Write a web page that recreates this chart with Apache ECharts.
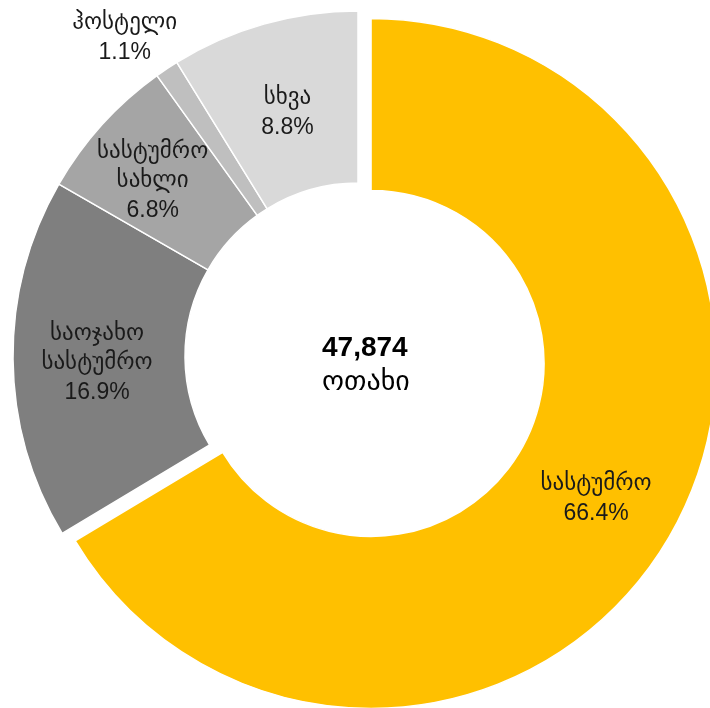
<!DOCTYPE html>
<html>
<head>
<meta charset="utf-8">
<script src="https://cdn.jsdelivr.net/npm/echarts@6/dist/echarts.min.js"></script>
<style>
  html, body { margin: 0; padding: 0; background: #fff; }
  #chart { width: 710px; height: 708px; }
</style>
</head>
<body>
<div id="chart"></div>
<script>
// categories and shares (%), clockwise from 12 o'clock
var names = ['სასტუმრო', 'საოჯახო\nსასტუმრო', 'სასტუმრო\nსახლი', 'ჰოსტელი', 'სხვა'];
var shares = [66.4, 16.9, 6.8, 1.1, 8.8];
var colors = ['#FFC000', '#7F7F7F', '#A5A5A5', '#BFBFBF', '#D9D9D9'];
var totalRooms = '47,874';
var totalLabel = 'ოთახი';

// label nudges, matching the original placement
var labelShift = [[-3, 7], [1, 5], [-11, 1], [-88, -100], [1, 9]];

var chart = echarts.init(document.getElementById('chart'));

var pieData = [];
for (var i = 0; i < names.length; i++) {
  pieData.push({
    name: names[i],
    value: shares[i],
    selected: i === 0,
    itemStyle: { color: colors[i] }
  });
}

var option = {
  animation: false,
  graphic: [
    {
      type: 'text',
      left: 322, top: 334,
      style: {
        text: totalRooms, width: 90, align: 'center',
        font: 'bold 28px "Liberation Sans", Arial, sans-serif', fill: '#000'
      }
    },
    {
      type: 'text',
      left: 322, top: 369,
      style: {
        text: totalLabel, width: 90, align: 'center',
        font: '28px "DejaVu Sans", sans-serif', fill: '#000'
      }
    }
  ],
  series: [{
    type: 'pie',
    center: [358, 356],
    radius: [173, 345],
    startAngle: 90,
    clockwise: true,
    selectedMode: 'single',
    selectedOffset: 15,
    avoidLabelOverlap: false,
    itemStyle: { borderColor: '#fff', borderWidth: 1.5 },
    label: {
      show: true,
      position: 'inside',
      formatter: function (p) {
        return p.name.split('\n').map(function (t) { return '{n|' + t + '}'; }).join('\n') +
          '\n{p|' + p.value.toFixed(1) + '%}';
      },
      align: 'center',
      color: '#1a1a1a',
      rich: {
        n: { fontFamily: '"DejaVu Sans", sans-serif', fontSize: 23, lineHeight: 29, color: '#1a1a1a' },
        p: { fontFamily: '"Liberation Sans", Arial, sans-serif', fontSize: 23, lineHeight: 30, color: '#1a1a1a' }
      }
    },
    labelLine: { show: false },
    labelLayout: function (params) {
      var s = labelShift[params.dataIndex];
      return { dx: s[0], dy: s[1] };
    },
    emphasis: { disabled: true },
    data: pieData
  }]
};

chart.setOption(option);
</script>
</body>
</html>
